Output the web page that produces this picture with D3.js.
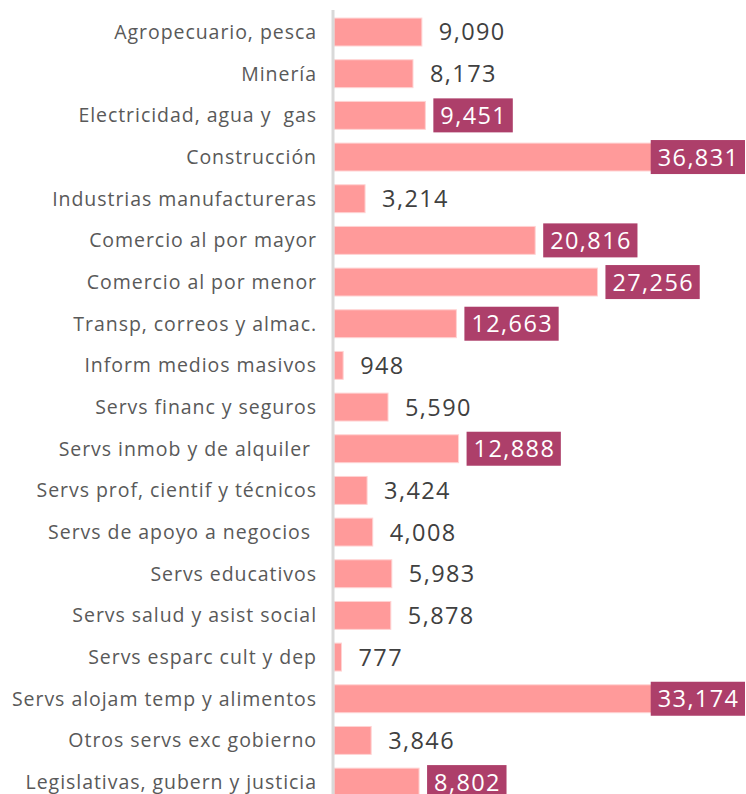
<!DOCTYPE html>
<html>
<head>
<meta charset="utf-8">
<script src="https://cdn.jsdelivr.net/npm/d3@7"></script>
<style>
  body { margin: 0; background: #fff; }
  svg { display: block; }
</style>
</head>
<body>
<svg width="746" height="794"></svg>
<script>
var categories = [
    "Agropecuario, pesca",
    "Minería",
    "Electricidad, agua y  gas",
    "Construcción",
    "Industrias manufactureras",
    "Comercio al por mayor",
    "Comercio al por menor",
    "Transp, correos y almac.",
    "Inform medios masivos",
    "Servs financ y seguros",
    "Servs inmob y de alquiler ",
    "Servs prof, cientif y técnicos",
    "Servs de apoyo a negocios ",
    "Servs educativos",
    "Servs salud y asist social",
    "Servs esparc cult y dep",
    "Servs alojam temp y alimentos",
    "Otros servs exc gobierno",
    "Legislativas, gubern y justicia"
];
var values = [9090, 8173, 9451, 36831, 3214, 20816, 27256, 12663, 948, 5590,
    12888, 3424, 4008, 5983, 5878, 777, 33174, 3846, 8802];
var highlighted = [false, false, true, true, false, true, true, true, false, false,
    true, false, false, false, false, false, true, false, true];

var svg = d3.select("svg");
var width = +svg.attr("width");

var fmt = d3.format(",");
var fontFam = "'Open Sans', 'DejaVu Sans', sans-serif";
var ls = 1.4;

var data = categories.map(function (c, i) {
    return { name: c, value: values[i], hi: highlighted[i] };
});

var step = 41.67;
var y = d3.scaleBand()
    .domain(categories)
    .range([11.2, 11.2 + step * categories.length])
    .paddingInner(0.33)
    .paddingOuter(0.165);

var x = d3.scaleLinear()
    .domain([0, d3.max(values)])
    .range([334, 690]);

// bars
svg.append("g").selectAll("rect")
    .data(data)
    .enter().append("rect")
    .attr("x", x(0))
    .attr("y", function (d) { return y(d.name); })
    .attr("width", function (d) { return x(d.value) - x(0); })
    .attr("height", y.bandwidth())
    .attr("fill", "#ff9a9a")
    .attr("stroke", "#ffd3d3")
    .attr("stroke-width", 1);

// axis line
svg.append("line")
    .attr("x1", 333).attr("x2", 333)
    .attr("y1", 10).attr("y2", 794)
    .attr("stroke", "#d9d9d9")
    .attr("stroke-width", 3);

// category labels
svg.append("g").selectAll("text")
    .data(data)
    .enter().append("text")
    .attr("x", 317)
    .attr("y", function (d) { return y(d.name) + y.bandwidth() / 2; })
    .attr("dy", "0.35em")
    .attr("text-anchor", "end")
    .style("font-family", fontFam)
    .style("font-size", "19.5px")
    .style("letter-spacing", "0.95px")
    .style("white-space", "pre")
    .attr("fill", "#595959")
    .text(function (d) { return d.name; });

// value labels
var lab = svg.append("g").selectAll("g")
    .data(data)
    .enter().append("g");

lab.each(function (d) {
    var g = d3.select(this);
    var cy = y(d.name) + y.bandwidth() / 2;
    var t = g.append("text")
        .attr("y", cy)
        .attr("dy", "0.36em")
        .style("font-family", fontFam)
        .style("font-size", "23.5px")
        .style("letter-spacing", ls + "px")
        .attr("fill", d.hi ? "#fff" : "#404040")
        .text(fmt(d.value));
    if (d.hi) {
        var w = t.node().getComputedTextLength() - ls + 14;
        var bx = Math.min(x(d.value) + 8, width - 1 - w);
        g.insert("rect", "text")
            .attr("x", bx)
            .attr("y", cy - 17)
            .attr("width", w)
            .attr("height", 34)
            .attr("fill", "#ad3f6a");
        t.attr("x", bx + 7);
    } else {
        t.attr("x", x(d.value) + 17);
    }
});
</script>
</body>
</html>
